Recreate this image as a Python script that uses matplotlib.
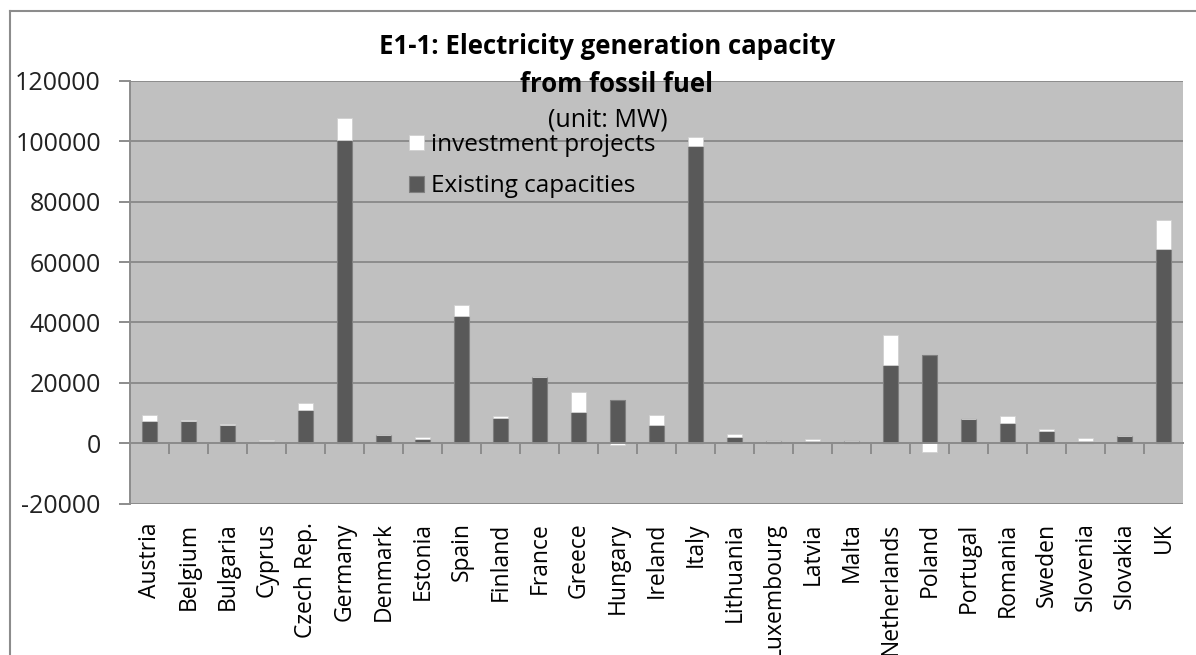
import numpy as np
import matplotlib
matplotlib.use("Agg")
import matplotlib.pyplot as plt
from matplotlib.lines import Line2D

plt.rcParams['font.family'] = ['Open Sans', 'DejaVu Sans']

# %% data (MW)
countries = ['Austria', 'Belgium', 'Bulgaria', 'Cyprus', 'Czech Rep.', 'Germany',
             'Denmark', 'Estonia', 'Spain', 'Finland', 'France', 'Greece',
             'Hungary', 'Ireland', 'Italy', 'Lithuania', 'Luxembourg', 'Latvia',
             'Malta', 'Netherlands', 'Poland', 'Portugal', 'Romania', 'Sweden',
             'Slovenia', 'Slovakia', 'UK']
existing = [7200, 7200, 5900, 800, 11000, 100300,
            2650, 1500, 42200, 8500, 22000, 10500,
            14400, 5900, 98600, 2000, 600, 900,
            600, 25900, 29300, 8100, 6800, 4200,
            900, 2300, 64300]
investment = [2200, 500, 500, 400, 2200, 7300,
              0, 500, 3600, 500, 0, 6400,
              -700, 3500, 3000, 1000, 0, 500,
              0, 9800, -3000, 0, 2300, 500,
              800, 0, 9600]
yticks = [-20000, 0, 20000, 40000, 60000, 80000, 100000, 120000]

# %% figure
W, H = 1196, 655
fig = plt.figure(figsize=(W / 100, H / 100), dpi=100)
ax = fig.add_axes([130 / W, 1 - 503.6 / H, (1183 - 130) / W, (503.6 - 81) / H])
ax.set_facecolor('#c0c0c0')

x = np.arange(len(countries))
existing = np.array(existing)
investment = np.array(investment)
inv_bottom = np.where(investment >= 0, existing, 0)

w = 0.37
ax.bar(x, existing, width=w, color='#595959', edgecolor='#7f7f7f', linewidth=0.8,
       zorder=3, label='Existing capacities')
ax.bar(x, investment, width=w, bottom=inv_bottom, color='white', edgecolor='#d0d0d0',
       linewidth=0.6, zorder=3, label='investment projects')

ax.set_xlim(-0.5, len(countries) - 0.5)
ax.set_ylim(-20000, 120000)
ax.set_yticks(yticks)
ax.set_yticklabels([str(t) for t in yticks], fontsize=18, color='#222222')
ax.yaxis.grid(True, color='#8c8c8c', linewidth=1.4, zorder=1)
ax.set_axisbelow(True)

for s in ['top', 'right']:
    ax.spines[s].set_visible(False)
ax.spines['left'].set_color('#8c8c8c')
ax.spines['left'].set_linewidth(1.4)
ax.spines['bottom'].set_position(('data', 0))
ax.spines['bottom'].set_color('#8c8c8c')
ax.spines['bottom'].set_linewidth(1.4)
ax.spines['bottom'].set_zorder(4)

ax.tick_params(axis='y', length=8, width=1.4, color='#8c8c8c', pad=13)
ax.set_xticks(x)
ax.set_xticklabels(countries, rotation=90, fontsize=16.5)
ax.set_xticks(np.arange(len(countries) - 1) + 0.5, minor=True)
ax.tick_params(axis='x', which='major', length=0, pad=57)
ax.tick_params(axis='x', which='minor', length=8, width=1.4, color='#8c8c8c')

# title
fig.text(607 / W, 1 - 47 / H, 'E1-1: Electricity generation capacity',
         ha='center', va='center', fontsize=18.5, fontweight='bold')
fig.text(617 / W, 1 - 85 / H, 'from fossil fuel',
         ha='center', va='center', fontsize=18.5, fontweight='bold')
fig.text(608 / W, 1 - 120 / H, '(unit: MW)',
         ha='center', va='center', fontsize=18)

# legend
h, l = ax.get_legend_handles_labels()
fig.legend(h[::-1], l[::-1], loc='upper left', bbox_to_anchor=(409 / W, 1 - 133 / H),
           frameon=False, fontsize=17.5, handlelength=0.6, handleheight=0.6,
           handletextpad=0.3, labelspacing=0.72, borderpad=0, borderaxespad=0)

# outer chart border
fig.add_artist(Line2D([10 / W, 10 / W], [0, 1 - 11 / H], color='#8c8c8c', linewidth=1.5))
fig.add_artist(Line2D([10 / W, 1], [1 - 11 / H, 1 - 11 / H], color='#8c8c8c', linewidth=1.5))

fig.savefig('out.png', dpi=100)
